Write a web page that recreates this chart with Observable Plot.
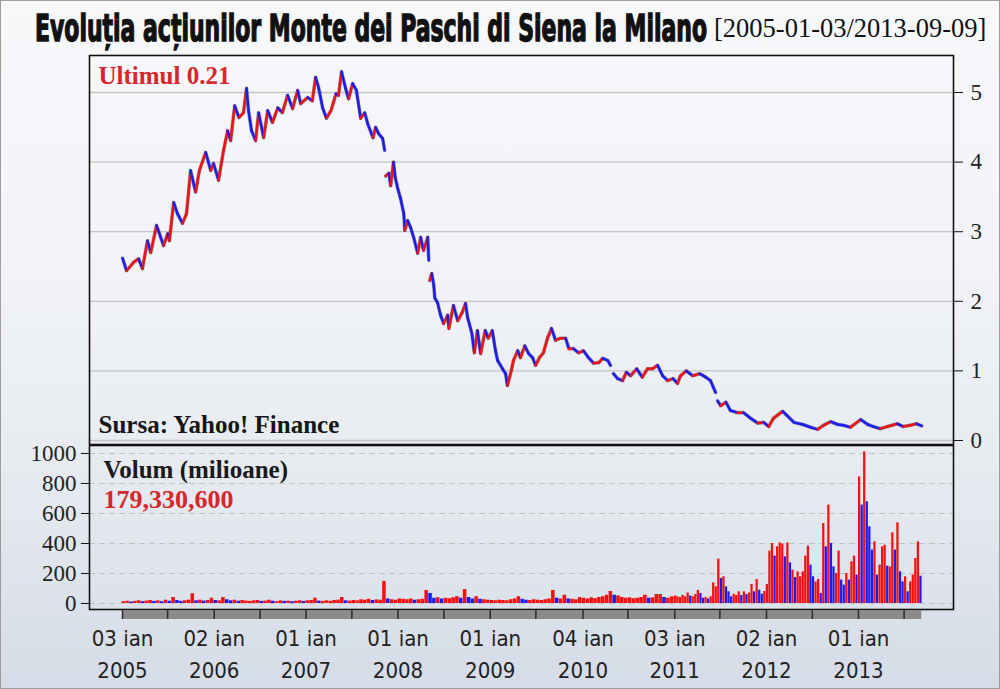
<!DOCTYPE html>
<html><head><meta charset="utf-8">
<script src="https://cdn.jsdelivr.net/npm/d3@7"></script>
<script src="https://cdn.jsdelivr.net/npm/@observablehq/plot@0.6"></script>
<style>
html,body{margin:0;padding:0;background:#fff;}
#chart{position:relative;width:1000px;height:689px;overflow:hidden;
  background:linear-gradient(to bottom,#f7f8fa 0%,#f1f3f7 40%,#e6eaf0 70%,#d5dce7 100%);
  box-shadow:inset 0 0 0 1px #9c9c9c;}
#chart > svg{position:absolute;left:0;}
</style></head><body><div id="chart"></div>
<script>
// ---------- DATA ----------
const titleMain = "Evoluția acțiunilor Monte dei Paschi di Siena la Milano";
const titleRange = "[2005-01-03/2013-09-09]";
const sourceText = "Sursa: Yahoo! Finance";
const volumeTitle = "Volum (milioane)";
const lastPrice = 0.21;
const lastVolume = 179330600;

const priceTicks = [0, 1, 2, 3, 4, 5];
const volumeTicks = [0, 200, 400, 600, 800, 1000];

const labelDates = ["2005-01-03","2006-01-02","2007-01-01","2008-01-01","2009-01-01","2010-01-04","2011-01-03","2012-01-02","2013-01-01"];
const labelTexts = ["03 ian\n2005","02 ian\n2006","01 ian\n2007","01 ian\n2008","01 ian\n2009","04 ian\n2010","03 ian\n2011","02 ian\n2012","01 ian\n2013"];
const separatorDates = ["2005-01-03","2005-07-01","2006-01-02","2006-07-03","2007-01-01","2007-07-02","2008-01-01","2008-07-01","2009-01-01","2009-07-01","2010-01-04","2010-07-01","2011-01-03","2011-07-01","2012-01-02","2012-07-02","2013-01-01","2013-07-01"];

// price (EUR), null = gap in the series
const priceDates = ["2005-01-03","2005-01-19","2005-02-16","2005-03-08","2005-03-23","2005-04-12","2005-04-25","2005-05-18","2005-06-15","2005-07-01","2005-07-08","2005-07-25","2005-08-09","2005-08-29","2005-09-14","2005-09-30","2005-10-20","2005-11-04","2005-11-29","2005-12-19","2005-12-30",
"2006-01-19","2006-02-08","2006-02-24","2006-03-08","2006-03-24","2006-04-10","2006-04-28","2006-05-10","2006-05-18","2006-05-30","2006-06-15","2006-06-27","2006-07-17","2006-08-02","2006-08-21","2006-09-11","2006-09-29","2006-10-20","2006-11-09","2006-11-29","2006-12-11",
"2007-01-08","2007-01-26","2007-02-08","2007-02-20","2007-03-08","2007-03-23","2007-04-10","2007-04-30","2007-05-10","2007-05-22","2007-06-07","2007-06-19","2007-07-05","2007-07-20","2007-08-06","2007-08-22","2007-09-03","2007-09-24","2007-10-04","2007-10-16","2007-11-01","2007-11-09","2007-11-11",
"2007-11-13","2007-11-26","2007-12-03","2007-12-14","2007-12-21","2007-12-31","2008-01-11","2008-01-24","2008-01-28","2008-02-08","2008-02-20","2008-03-03","2008-03-19","2008-03-31","2008-04-11","2008-04-28","2008-05-02","2008-05-04",
"2008-05-06","2008-05-14","2008-05-22","2008-05-26","2008-06-06","2008-06-18","2008-06-30","2008-07-16","2008-07-21","2008-08-08","2008-08-25","2008-09-12","2008-09-25","2008-10-03","2008-10-20","2008-10-30","2008-11-11","2008-11-24","2008-12-12","2008-12-24",
"2009-01-09","2009-01-22","2009-01-30","2009-02-19","2009-03-03","2009-03-10","2009-03-26","2009-04-03","2009-04-20","2009-05-01","2009-05-18","2009-06-02","2009-06-18","2009-06-30","2009-07-15","2009-07-31","2009-08-17","2009-09-01","2009-09-17","2009-10-07","2009-10-27","2009-11-09","2009-11-27","2009-12-17",
"2010-01-06","2010-01-26","2010-02-15","2010-03-08","2010-03-23","2010-04-12","2010-04-23","2010-04-28",
"2010-05-05","2010-05-21","2010-06-10","2010-06-25","2010-07-12","2010-08-05","2010-08-27","2010-09-17","2010-10-07","2010-10-27","2010-11-16","2010-12-06","2010-12-27",
"2011-01-14","2011-01-26","2011-02-18","2011-03-15","2011-04-12","2011-05-06","2011-05-25","2011-06-14","2011-06-17",
"2011-06-22","2011-07-04","2011-07-25","2011-08-12","2011-09-09","2011-10-03","2011-10-31","2011-11-28","2011-12-22",
"2012-01-11","2012-01-30","2012-03-06","2012-03-26","2012-04-20","2012-05-25","2012-06-25","2012-07-23","2012-08-16","2012-09-13","2012-10-11","2012-11-02","2012-11-30",
"2013-01-10","2013-02-07","2013-03-01","2013-03-28","2013-04-26","2013-06-05","2013-06-28","2013-07-26","2013-08-19","2013-09-09"];
const priceValues = [2.62,2.44,2.56,2.61,2.47,2.87,2.70,3.09,2.80,2.97,2.87,3.42,3.26,3.12,3.26,3.88,3.57,3.88,4.14,3.88,3.98,
3.74,4.17,4.45,4.31,4.81,4.64,4.71,5.06,4.74,4.45,4.31,4.71,4.35,4.74,4.57,4.78,4.71,4.96,4.77,5.03,4.84,
4.93,4.88,5.22,5.07,4.78,4.63,4.74,4.98,4.96,5.30,5.06,4.91,5.13,5.03,4.63,4.71,4.55,4.35,4.50,4.41,4.34,4.17,null,
3.80,3.84,3.66,4.00,3.78,3.62,3.48,3.26,3.02,3.16,3.06,2.92,2.69,2.92,2.73,2.92,2.59,null,
2.30,2.40,2.23,2.05,1.98,1.80,1.68,1.80,1.61,1.94,1.72,1.84,1.97,1.77,1.54,1.26,1.58,1.25,1.58,1.47,
1.58,1.29,1.15,1.03,0.96,0.79,1.01,1.15,1.29,1.19,1.36,1.25,1.19,1.08,1.19,1.26,1.48,1.61,1.44,1.47,1.47,1.32,1.32,1.26,
1.29,1.19,1.11,1.12,1.18,1.15,1.08,null,
0.96,0.89,0.86,0.98,0.93,1.03,0.91,1.03,1.03,1.08,0.93,0.86,0.89,
0.82,0.93,1.00,0.93,0.96,0.91,0.86,0.69,null,
0.57,0.50,0.55,0.43,0.40,0.40,0.32,0.25,0.26,
0.20,0.32,0.42,0.35,0.26,0.23,0.19,0.16,0.22,0.27,0.23,0.22,0.19,
0.30,0.23,0.20,0.17,0.20,0.24,0.20,0.22,0.24,0.21];

// volume (millions of shares): half-monthly slots 2005-2010, ~10-day slots 2011-2013
const vol2005 = [12,15,10,14,18,12,16,20,14,18,12,22,15,40,20,14,18,22,65,18,22,16,20,35];
const vol2006 = [20,18,40,25,18,22,15,20,16,14,18,20,14,16,22,15,12,18,14,16,12,15,18,14];
const vol2007 = [18,20,35,16,14,18,15,20,22,40,18,16,20,18,25,22,28,20,24,22,147,30,25,22];
const vol2008 = [30,28,25,30,22,25,28,87,67,35,38,30,35,32,38,45,35,93,40,30,45,28,25,22];
const vol2009 = [20,18,22,20,18,25,30,45,28,22,20,25,22,20,25,30,87,35,30,55,30,28,25,40];
const vol2010 = [35,30,38,32,40,45,55,80,55,50,40,35,38,32,35,40,55,35,38,60,60,40,35,45];
const vol2011 = [50,45,40,55,45,70,50,45,60,87,67,35,40,30,45,138,111,296,167,178,111,78,44,62,53,78,53,78,60,70,127,78,160,89,62,80];
const vol2012 = [127,349,400,316,378,404,396,311,404,271,222,173,211,178,211,316,382,256,178,144,160,67,533,378,656,400,244,200,349,156,122,200,156,278,316,189];
const vol2013 = [844,656,1011,678,511,356,411,189,256,378,389,249,244,471,356,538,211,144,178,78,144,189,300,411,182];
const volumeYears = [2005,2006,2007,2008,2009,2010,2011,2012,2013];
const volumeSlotsPerYear = [24,24,24,24,24,24,36,36,36];
const volumeSeries = [vol2005,vol2006,vol2007,vol2008,vol2009,vol2010,vol2011,vol2012,vol2013];

// ---------- BUILD TABLES ----------
const RED = "#f21212", BLUE = "#1c1cf2";
const pts = priceDates.map((d,i)=>({date:new Date(d+"T00:00:00Z"), v:priceValues[i]}));
const segs = [];
for (let i=1;i<pts.length;i++){
  if (pts[i].v==null || pts[i-1].v==null) continue;
  segs.push({x1:pts[i-1].date, y1:pts[i-1].v, x2:pts[i].date, y2:pts[i].v, up: pts[i].v>=pts[i-1].v});
}
const volTable = [];
volumeYears.forEach((yr,k)=>{
  const t0 = Date.UTC(yr,0,1), t1 = Date.UTC(yr+1,0,1), n = volumeSlotsPerYear[k];
  volumeSeries[k].forEach((v,i)=>volTable.push({d1:new Date(t0+(t1-t0)*i/n), d2:new Date(t0+(t1-t0)*(i+1)/n), v}));
});
volTable.forEach((d,i)=>{ d.up = i===0 || d.v >= volTable[i-1].v * 0.8; });

const xDomain = [new Date("2004-08-25T00:00:00Z"), new Date("2014-01-13T00:00:00Z")];
const serif = "'Liberation Serif', 'DejaVu Serif', serif";
const cond = "'DejaVu Sans Condensed', 'DejaVu Sans', sans-serif";
const chart = document.getElementById("chart");

// ---------- TITLE ----------
const ns = "http://www.w3.org/2000/svg";
const tsvg = document.createElementNS(ns,"svg");
tsvg.setAttribute("width",1000); tsvg.setAttribute("height",55);
tsvg.style.top = "0px";
const g1 = document.createElementNS(ns,"g");
g1.setAttribute("transform","translate(35,41) scale(1,1.78)");
const t1 = document.createElementNS(ns,"text");
t1.setAttribute("x",0); t1.setAttribute("y",0);
t1.setAttribute("textLength",672); t1.setAttribute("lengthAdjust","spacingAndGlyphs");
t1.setAttribute("font-family","'DejaVu Sans Condensed','DejaVu Sans',sans-serif");
t1.setAttribute("font-weight","bold"); t1.setAttribute("font-size",21); t1.setAttribute("fill","#111");
t1.setAttribute("stroke","#111"); t1.setAttribute("stroke-width","0.8");
t1.textContent = titleMain;
g1.appendChild(t1);
const t2 = document.createElementNS(ns,"text");
t2.setAttribute("x",714); t2.setAttribute("y",37);
t2.setAttribute("font-family",serif); t2.setAttribute("font-size",26.5); t2.setAttribute("fill","#111");
t2.textContent = titleRange;
tsvg.appendChild(g1); tsvg.appendChild(t2);
chart.appendChild(tsvg);

// ---------- PRICE PANEL ----------
const price = Plot.plot({
  width:1000, height:445, marginLeft:89, marginRight:47, marginTop:55, marginBottom:1,
  x:{type:"utc", domain:xDomain, axis:null},
  y:{domain:[-0.0575, 5.532], axis:null, label:null},
  style:{background:"transparent", overflow:"visible"},
  marks:[
    Plot.ruleY(priceTicks, {stroke:"#c4c4c4", strokeWidth:1.3}),
    Plot.axisY(priceTicks, {anchor:"right", label:null, tickSize:9, tickPadding:8, fontSize:23, fontFamily:serif, fill:"#222", stroke:"#111", tickFormat:d=>String(d)}),
    Plot.line(pts, {x:"date", y:"v", stroke:"#333", strokeWidth:3.6, strokeOpacity:0.5, curve:"linear"}),
    Plot.link(segs, {x1:"x1", y1:"y1", x2:"x2", y2:"y2", stroke:d=>d.up?RED:BLUE, strokeWidth:2.5, strokeLinecap:"round"}),
    Plot.text([`Ultimul ${lastPrice}`], {frameAnchor:"top-left", lineAnchor:"bottom", dx:9, dy:28, fontSize:25, fontWeight:"bold", fontFamily:serif, fill:"#d7262c", textAnchor:"start"}),
    Plot.text([sourceText], {frameAnchor:"bottom-left", lineAnchor:"bottom", dx:9, dy:-12, fontSize:25, fontWeight:"bold", fontFamily:serif, fill:"#151515", textAnchor:"start"}),
    Plot.frame({stroke:"#111", strokeWidth:1.6})
  ]
});
price.style.top = "0px";
chart.appendChild(price);

// ---------- VOLUME PANEL ----------
const volume = Plot.plot({
  width:1000, height:246, marginLeft:89, marginRight:47, marginTop:2, marginBottom:80,
  x:{type:"utc", domain:xDomain, axis:null},
  y:{domain:[-40, 1053.3], axis:null, label:null},
  style:{background:"transparent", overflow:"visible"},
  marks:[
    Plot.ruleY(volumeTicks, {stroke:"#c2c2c2", strokeWidth:1.2, strokeDasharray:"6,4"}),
    Plot.axisY(volumeTicks, {anchor:"left", label:null, tickSize:8, tickPadding:5, fontSize:23, fontFamily:serif, fill:"#222", stroke:"#111", tickFormat:d=>String(d)}),
    Plot.rectY(volTable, {x1:"d1", x2:"d2", y1:0, y2:"v", fill:d=>d.up?RED:BLUE, insetRight:0.3}),
    Plot.text([volumeTitle], {frameAnchor:"top-left", lineAnchor:"bottom", dx:14, dy:32, fontSize:25, fontWeight:"bold", fontFamily:serif, fill:"#1a1a1a", textAnchor:"start"}),
    Plot.text([d3.format(",")(lastVolume)], {frameAnchor:"top-left", lineAnchor:"bottom", dx:14, dy:62, fontSize:26, fontWeight:"bold", fontFamily:serif, fill:"#d7262c", textAnchor:"start"}),
    Plot.frame({stroke:"#111", strokeWidth:1.6})
  ]
});
volume.style.top = "443px";
chart.appendChild(volume);

// ---------- X AXIS BAND ----------
const band = [{a:pts[0].date, b:pts[pts.length-1].date}];
const xaxis = Plot.plot({
  width:1000, height:79, marginLeft:89, marginRight:47, marginTop:0, marginBottom:70,
  x:{type:"utc", domain:xDomain, axis:null},
  y:{axis:null},
  style:{background:"transparent", overflow:"visible"},
  marks:[
    Plot.rect(band, {x1:"a", x2:"b", fill:"#8b8b8b"}),
    Plot.ruleX(separatorDates.map(d=>new Date(d+"T00:00:00Z")), {stroke:"#2a2a2a", strokeWidth:1.5}),
    Plot.text(labelDates.map((d,i)=>({date:new Date(d+"T00:00:00Z"), t:labelTexts[i]})), {x:"date", text:"t", frameAnchor:"bottom", lineAnchor:"bottom", dy:58, lineHeight:1.42, fontSize:22, fontFamily:cond, fill:"#222"})
  ]
});
xaxis.style.top = "610px";
chart.appendChild(xaxis);
</script></body></html>
